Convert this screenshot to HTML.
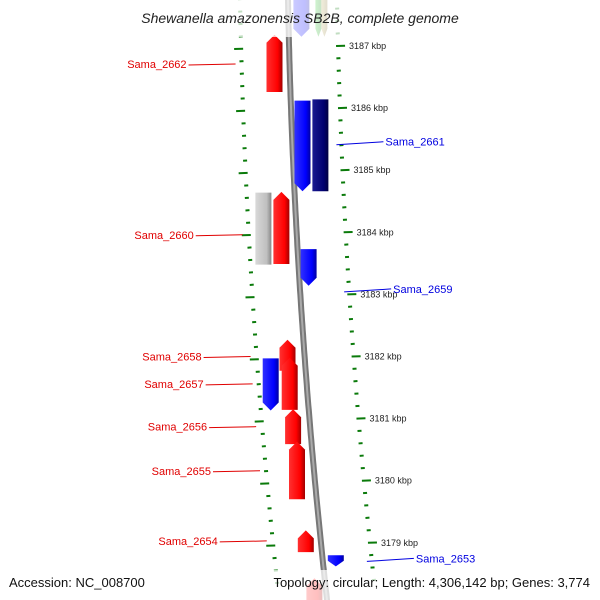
<!DOCTYPE html>
<html><head><meta charset="utf-8"><style>
html,body{margin:0;padding:0;background:#fff}
svg{display:block;font-family:"Liberation Sans","DejaVu Sans",sans-serif}
</style></head><body>
<svg id="map" width="600" height="600" viewBox="0 0 600 600" xmlns="http://www.w3.org/2000/svg">
<defs>
<linearGradient id="gRed" x1="0" x2="1"><stop offset="0" stop-color="#ff3030"/><stop offset="0.7" stop-color="#ff0000"/><stop offset="1" stop-color="#a00000"/></linearGradient>
<linearGradient id="gBlue" x1="0" x2="1"><stop offset="0" stop-color="#3030ff"/><stop offset="0.7" stop-color="#0000ff"/><stop offset="1" stop-color="#0000a0"/></linearGradient>
<linearGradient id="gNavy" x1="0" x2="1"><stop offset="0" stop-color="#1a1a90"/><stop offset="0.7" stop-color="#000070"/><stop offset="1" stop-color="#000040"/></linearGradient>
<linearGradient id="gGrey" x1="0" x2="1"><stop offset="0" stop-color="#d8d8d8"/><stop offset="0.7" stop-color="#c0c0c0"/><stop offset="1" stop-color="#888"/></linearGradient>
<linearGradient id="gGreen" x1="0" x2="1"><stop offset="0" stop-color="#40d040"/><stop offset="1" stop-color="#209020"/></linearGradient>
<linearGradient id="gOlive" x1="0" x2="1"><stop offset="0" stop-color="#c8b870"/><stop offset="1" stop-color="#8a7a40"/></linearGradient>
</defs>
<g id="ticks"></g>
<path id="backbone" fill="none" stroke="#777" stroke-width="6"/>
<path id="backbone2" fill="none" stroke="#aaa" stroke-width="2"/>
<g id="genes"></g>
<g id="labels"></g>
<rect x="0" y="0" width="600" height="37" fill="#fff" opacity="0.75"/>
<text x="300" y="23" text-anchor="middle" font-size="14" font-style="italic" fill="#222">Shewanella amazonensis SB2B, complete genome</text>
<rect x="0" y="570" width="600" height="30" fill="#fff" opacity="0.75"/>
<text x="9" y="587" font-size="13" fill="#111">Accession: NC_008700</text>
<text x="590" y="587" text-anchor="end" font-size="13" fill="#111">Topology: circular; Length: 4,306,142 bp; Genes: 3,774</text>
</svg>
<script>
// data
const geneNames = ["Sama_2662","top_blue","top_green","top_olive","Sama_2661","Sama_2661_b","Sama_2660_b","Sama_2660","Sama_2659","Sama_2658","Sama_2657_b","Sama_2657","Sama_2656","Sama_2655","Sama_2654","Sama_2653","bottom_red"];
const geneStartKbp = [3187.18,3187.75,3187.75,3187.75,3186.12,3186.14,3184.64,3184.65,3183.73,3182.27,3181.97,3181.98,3181.15,3180.63,3179.20,3178.80,3178.43];
const geneEndKbp   = [3186.26,3187.15,3187.15,3187.15,3184.66,3184.66,3183.48,3183.49,3183.14,3181.77,3181.13,3181.14,3180.59,3179.70,3178.85,3178.62,3177.90];
const geneStrand   = [-1,1,1,1,1,0,0,-1,1,-1,1,-1,-1,-1,-1,1,-1];
const geneRing     = [-15,13,30,36,10,28,-33,-15,10,-17,-36,-17,-17,-17,-15,13,-12];
const geneColor    = ["gRed","gBlue","gGreen","gOlive","gBlue","gNavy","gGrey","gRed","gBlue","gRed","gBlue","gRed","gRed","gRed","gRed","gBlue","gRed"];
const labelNames = ["Sama_2662","Sama_2661","Sama_2660","Sama_2659","Sama_2658","Sama_2657","Sama_2656","Sama_2655","Sama_2654","Sama_2653"];
const labelKbp   = [3186.71,3185.41,3183.96,3183.04,3182.00,3181.56,3180.87,3180.16,3179.03,3178.70];
const labelSide  = [-1,1,-1,1,-1,-1,-1,-1,-1,1];
const tickKbpMax = 3187.8, tickKbpMin = 3178.4;

const ns="http://www.w3.org/2000/svg";
function yOf(k){return 46+(3187-k)*62.1;}
function bx(y){return 288+0.0195*y+7.59e-5*y*y;}
function mk(t,a,p){const e=document.createElementNS(ns,t);for(const k in a)e.setAttribute(k,a[k]);p.appendChild(e);return e;}

let d="";for(let y=-5;y<=605;y+=5)d+=(y<0?"M":"L")+bx(y).toFixed(1)+" "+y+" ";
document.getElementById("backbone").setAttribute("d",d);
document.getElementById("backbone2").setAttribute("d",d);

const tg=document.getElementById("ticks");
for(let i=0;;i++){
  const k=tickKbpMax-i*0.2; if(k<tickKbpMin)break;
  const major=Math.abs(k-Math.round(k))<0.01;
  const len=major?9:4;
  // right ring
  let y=yOf(k), x=bx(y)+47;
  const r=mk("line",{x1:x,y1:y,x2:x+len,y2:y-0.3,stroke:"#0a7a0a","stroke-width":2},tg);
  
  
  if(major){
    const t=mk("text",{x:x+len+4,y:y+3,"font-size":9,fill:"#222"},tg);
    t.textContent=Math.round(k)+" kbp";
    
    
  }
  // left ring
  y=yOf(k)+3; x=bx(y)-46;
  const l=mk("line",{x1:x-len,y1:y,x2:x,y2:y-0.3,stroke:"#0a7a0a","stroke-width":2},tg);
  
  
}

const gg=document.getElementById("genes");
geneNames.forEach((n,i)=>{
  const y1=yOf(geneStartKbp[i]), y2=yOf(geneEndKbp[i]);
  const top=Math.min(y1,y2), bot=Math.max(y1,y2);
  const c=bx((top+bot)/2)+geneRing[i], w=geneColor[i]==="gGreen"||geneColor[i]==="gOlive"?6:16;
  const L=c-w/2,R=c+w/2, h=Math.min(8,(bot-top)/2), s=geneStrand[i];
  let pts;
  if(s<0) pts=[[c,top],[R,top+h],[R,bot],[L,bot],[L,top+h]];
  else if(s>0) pts=[[L,top],[R,top],[R,bot-h],[c,bot],[L,bot-h]];
  else pts=[[L,top],[R,top],[R,bot],[L,bot]];
  const p=mk("polygon",{points:pts.map(q=>q[0].toFixed(1)+","+q[1].toFixed(1)).join(" "),fill:"url(#"+geneColor[i]+")"},gg);
  
  
});

const lg=document.getElementById("labels");
labelNames.forEach((n,i)=>{
  const y=yOf(labelKbp[i]), s=labelSide[i], col=s<0?"#e00000":"#0000e0";
  let x1,x2,tx;
  if(s<0){x2=bx(y)-54;x1=x2-47;tx=x1-2;}else{x1=bx(y)+44;x2=x1+47;tx=x2+2;}
  const ln=mk("line",{x1:x1,y1:y+(s<0?1:0),x2:x2,y2:y-(s<0?0:3),stroke:col,"stroke-width":1},lg);
  
  
  const t=mk("text",{x:tx,y:y-(s>0?3:0)+4,"font-size":11,fill:col,"text-anchor":s<0?"end":"start"},lg);
  t.textContent=n;
  
  
});
</script>
</body></html>
